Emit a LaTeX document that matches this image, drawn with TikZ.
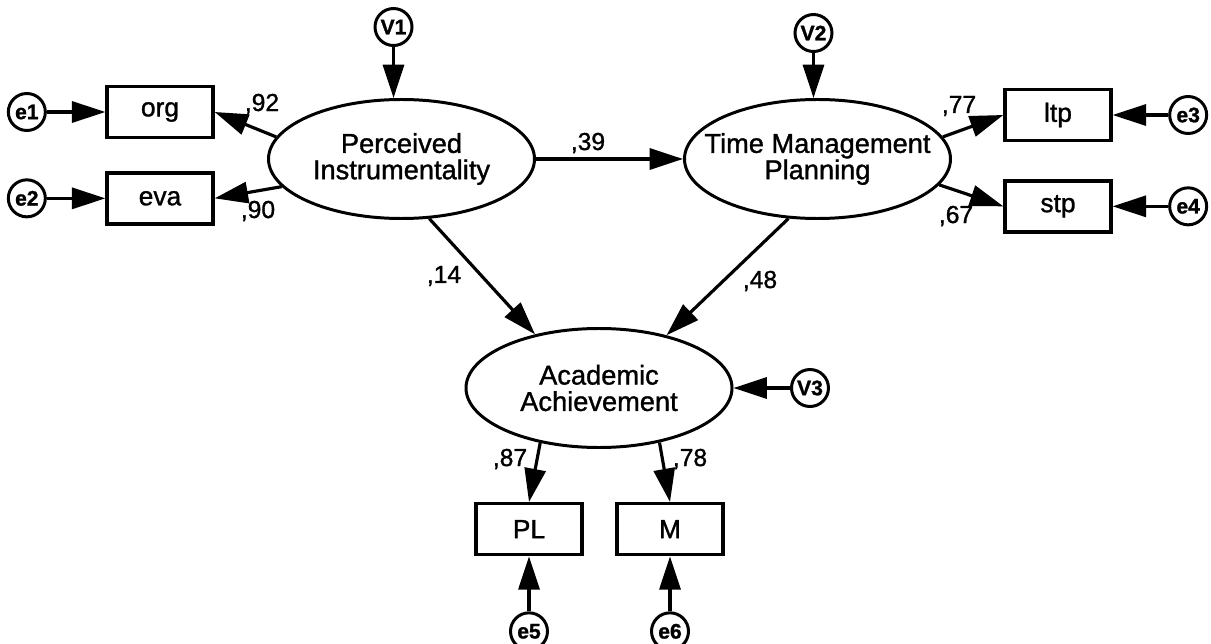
\documentclass[tikz,border=0pt]{standalone}
\usepackage{fontspec}
\setmainfont{Liberation Sans}[FakeBold=1.2]
\usepackage{tikz}
\usetikzlibrary{positioning}
\usetikzlibrary{shapes,arrows.meta}
\tikzstyle{latent} = [ellipse, draw, line width=1.7pt, minimum width=5.32cm,
minimum height=2.38cm, inner xsep=-0.45cm, inner ysep=0pt, align=center,
font=\fontsize{15.5}{15}\selectfont]
\tikzstyle{observed} = [rectangle, draw, line width=1.9pt, minimum width=2.12cm,
minimum height=1.02cm, font=\fontsize{15}{15}\selectfont]
\tikzstyle{resid} = [circle, draw, line width=1.7pt, minimum size=0.74cm, inner sep=0pt,
font=\bfseries\fontsize{12}{12}\selectfont]
\tikzstyle{coef} = [inner sep=0pt, font=\fontsize{14}{14}\selectfont]
\tikzstyle{effect} = [draw, line width=1.8pt, -{Triangle[length=19pt,width=12pt]}]

\begin{document}
\begin{tikzpicture}[node distance = 1cm]
  \useasboundingbox (0,0) rectangle (24.22,-12.88);

          % Place nodes
    \node [latent] (pi) at (8.03,-3.18) {Perceived\\Instrumentality};
    \node [latent, right=2.94cm of pi] (tmp) {Time Management\\Planning};
    \node [latent] (aa) at (11.98,-7.76) {Academic\\Achievement};
    \node [observed] (org) at (3.2,-2.24) {org};
    \node [observed, below=0.64cm of org] (eva) {eva};
    \node [observed] (ltp) at (21.16,-2.3) {ltp};
    \node [observed, below=0.74cm of ltp] (stp) {stp};
    \node [observed, below=1.06cm of aa, xshift=-1.4cm] (pl) {PL};
    \node [observed, below=1.06cm of aa, xshift=1.42cm] (m) {M};
    \node [resid, left=1.17cm of org] (e1) {e1};
    \node [resid, left=1.17cm of eva] (e2) {e2};
    \node [resid, right=1.11cm of ltp] (e3) {e3};
    \node [resid, right=1.11cm of stp] (e4) {e4};
    \node [resid, below=1.1cm of pl] (e5) {e5};
    \node [resid, below=1.1cm of m] (e6) {e6};
    \node [resid, above=1.02cm of pi, xshift=-0.16cm] (v1) {V1};
    \node [resid, above=0.9cm of tmp, xshift=-0.08cm] (v2) {V2};
    \node [resid, right=1.13cm of aa] (v3) {V3};
    % loadings and paths
    \node [coef] (c92) at (5.24,-2.08) {,92};
    \node [coef] (c90) at (5.16,-4.22) {,90};
    \node [coef] (c39) at (11.76,-2.86) {,39};
    \node [coef] (c77) at (19.18,-2.12) {,77};
    \node [coef] (c67) at (19.12,-4.32) {,67};
    \node [coef] (c14) at (8.88,-5.52) {,14};
    \node [coef] (c48) at (15.2,-5.62) {,48};
    \node [coef] (c87) at (10.2,-9.18) {,87};
    \node [coef] (c78) at (13.8,-9.18) {,78};
    % edges
         \path [effect] (pi.170) -- (org.east);
         \path [effect] (pi.193) -- (eva.east);
         \path [effect] (pi) -- (tmp);
         \path [effect] (tmp.10) -- (ltp.west);
         \path [effect] (tmp.348) -- (stp.west);
         \path [effect] (pi.295) -- (aa.140);
         \path [effect] (tmp.244) -- (aa.38);
         \path [effect] (aa.223) -- (pl.north);
         \path [effect] (aa.318) -- (m.north);
         \path [effect] (e1) -- (org);
         \path [effect] (e2) -- (eva);
         \path [effect] (e3) -- (ltp);
         \path [effect] (e4) -- (stp);
         \path [effect] (e5) -- (pl);
         \path [effect] (e6) -- (m);
         \path [effect] (v1) -- (v1 |- pi.north);
         \path [effect] (v2) -- (v2 |- tmp.north);
         \path [effect] (v3) -- (aa);
  \end{tikzpicture}
\end{document}
